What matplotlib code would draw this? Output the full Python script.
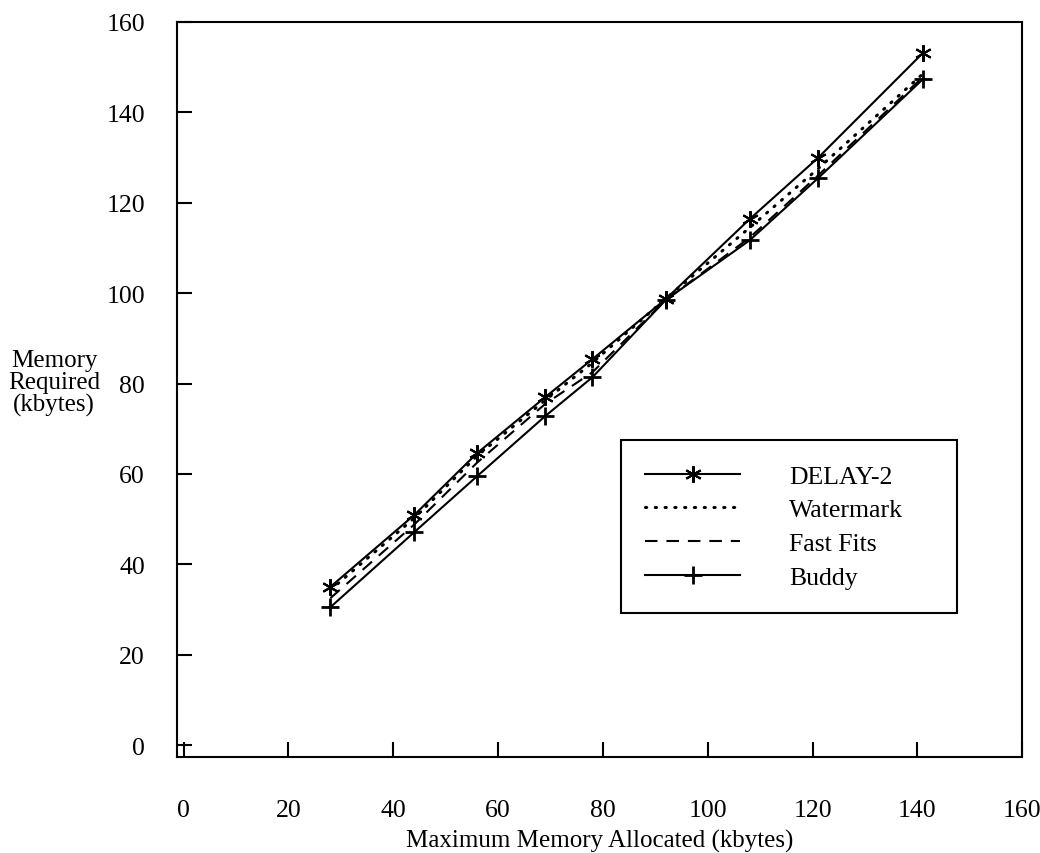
import numpy as np
import matplotlib
matplotlib.use('Agg')
import matplotlib.pyplot as plt

plt.rcParams['font.family'] = ['Liberation Serif', 'DejaVu Serif']

# maximum memory allocated (kbytes), same programs for every allocator
alloc = [28, 44, 56, 69, 78, 92, 108, 121, 141]

# memory required (kbytes)
delay2 = [35.0, 50.9, 64.6, 77.0, 85.4, 98.7, 116.4, 129.9, 153.1]
watermark = [34.3, 50.2, 64.0, 76.3, 84.6, 98.8, 114.5, 127.5, 148.5]
fastfits = [32.5, 48.8, 62.5, 75.5, 82.5, 98.5, 112.3, 126.0, 147.8]
buddy = [30.5, 47.1, 59.5, 72.8, 81.4, 98.5, 111.7, 125.4, 147.3]

ticks = [0, 20, 40, 60, 80, 100, 120, 140, 160]

fig = plt.figure(figsize=(10.4, 8.54), dpi=100)
ax = fig.add_axes([0.170, 0.1124, 0.813, 0.8607])

lw = 1.5
# six-spoke asterisk marker like the original
ax.plot(alloc, delay2, color='black', lw=lw, marker=(6, 2, 0), ms=12, mew=1.5, label='DELAY-2')
ax.plot(alloc, watermark, color='black', lw=2.2, ls=(0, (0.4, 2.8)), dash_capstyle='round',
        label='Watermark')
ax.plot(alloc, fastfits, color='black', lw=lw, ls=(0, (6, 4.3)), label='Fast Fits')
ax.plot(alloc, buddy, color='black', lw=lw, marker='+', ms=13, mew=2.0, label='Buddy')

ax.set_xlim(-1.3, 160)
ax.set_ylim(-2.65, 160)
ax.set_xticks(ticks)
ax.set_yticks(ticks)
ax.tick_params(direction='in', length=11, width=1.5, labelsize=18.5,
               top=False, right=False)
ax.tick_params(axis='x', pad=30)
ax.tick_params(axis='y', pad=23)
for s in ax.spines.values():
    s.set_linewidth(1.5)

ax.set_xlabel('Maximum Memory Allocated (kbytes)', fontsize=18, labelpad=6)
ax.text(-0.145, 0.51, 'Memory\nRequired\n(kbytes)', transform=ax.transAxes,
        fontsize=18, ha='center', va='center', linespacing=1.0)

leg = ax.legend(loc='upper left', bbox_to_anchor=(0.525, 0.199, 0.398, 0.232),
                mode='expand', borderaxespad=0, fontsize=18.5, handlelength=3.7,
                handletextpad=1.9, labelspacing=0.42, borderpad=0.95,
                fancybox=False, framealpha=1, edgecolor='black')
leg.get_frame().set_linewidth(1.5)

fig.savefig('out.png', dpi=100)
